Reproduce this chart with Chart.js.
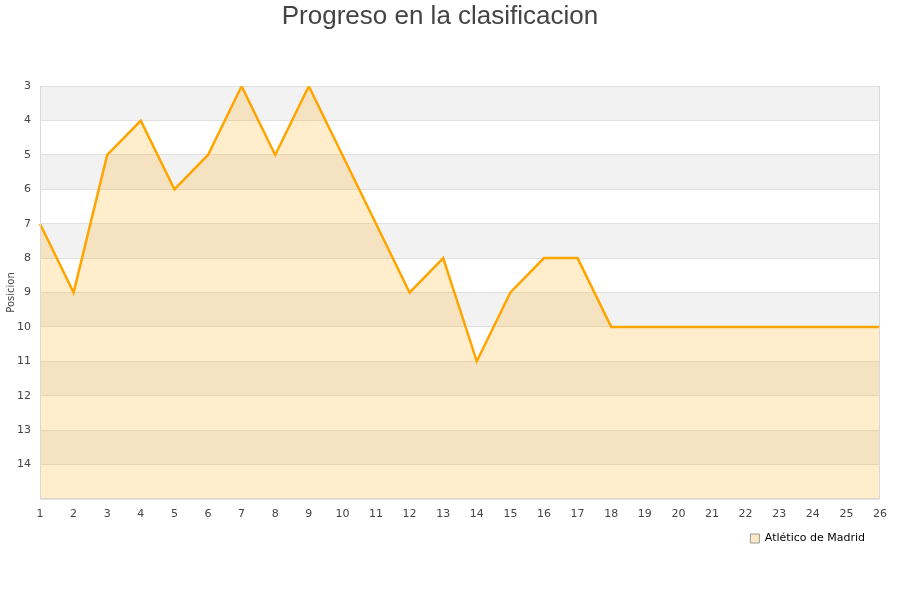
<!DOCTYPE html>
<html>
<head>
<meta charset="utf-8">
<script src="https://cdn.jsdelivr.net/npm/chart.js@4/dist/chart.umd.min.js"></script>
<style>
  html, body { margin: 0; padding: 0; background: #fff; }
  #wrap { width: 900px; height: 600px; }
</style>
</head>
<body>
<div id="wrap"><canvas id="chart" width="900" height="600"></canvas></div>
<script>
// jornadas y posiciones
const jornadas = ['1','2','3','4','5','6','7','8','9','10','11','12','13','14','15','16','17','18','19','20','21','22','23','24','25','26'];
const posiciones = [7, 9, 5, 4, 6, 5, 3, 5, 3, 5, 7, 9, 8, 11, 9, 8, 8, 10, 10, 10, 10, 10, 10, 10, 10, 10];
const equipo = 'Atlético de Madrid';
const posMin = 3;
const posMax = 15;

// franjas alternas detras del grafico
const bandas = {
    id: 'bandas',
    afterLayout(chart) {
        // la leyenda queda un poco separada del borde derecho
        chart.legend.right -= 12;
    },
    beforeDraw(chart) {
        const ctx = chart.ctx;
        const area = chart.chartArea;
        const y = chart.scales.y;
        ctx.save();
        for (let v = posMin; v < posMax; v++) {
            if ((v - posMin) % 2 === 0) {
                const top = y.getPixelForValue(v);
                const bottom = y.getPixelForValue(v + 1);
                ctx.fillStyle = '#f2f2f2';
                ctx.fillRect(area.left, top, area.right - area.left, bottom - top);
            }
        }
        ctx.restore();
    },
    afterDatasetsDraw(chart) {
        const ctx = chart.ctx;
        const area = chart.chartArea;
        ctx.save();
        ctx.strokeStyle = '#d9d9d9';
        ctx.lineWidth = 1;
        ctx.beginPath();
        ctx.moveTo(area.left + 0.5, area.top);
        ctx.lineTo(area.left + 0.5, area.bottom + 0.5);
        ctx.lineTo(area.right - 0.5, area.bottom + 0.5);
        ctx.lineTo(area.right - 0.5, area.top);
        ctx.stroke();
        ctx.restore();
    }
};

const ctx = document.getElementById('chart').getContext('2d');
new Chart(ctx, {
    type: 'line',
    data: {
        labels: jornadas,
        datasets: [{
            label: equipo,
            data: posiciones,
            borderColor: '#ffa500',
            borderWidth: 2.5,
            backgroundColor: 'rgba(255,165,0,0.2)',
            fill: 'start',
            pointRadius: 0,
            tension: 0
        }]
    },
    options: {
        responsive: false,
        animation: false,
        layout: { padding: { left: 0, right: 20, top: 0, bottom: 46 } },
        plugins: {
            title: {
                display: true,
                text: 'Progreso en la clasificacion',
                color: '#444',
                font: { family: 'Liberation Sans', size: 26, weight: 'normal' },
                padding: { top: 1, bottom: 54 }
            },
            legend: {
                position: 'bottom',
                align: 'end',
                labels: {
                    color: '#000',
                    font: { family: 'DejaVu Sans', size: 11 },
                    boxWidth: 9,
                    boxHeight: 9,
                    padding: 3,
                    generateLabels(chart) {
                        return chart.data.datasets.map((ds, i) => ({
                            text: ds.label,
                            fillStyle: 'rgba(255,165,0,0.25)',
                            strokeStyle: '#999',
                            lineWidth: 1,
                            datasetIndex: i
                        }));
                    }
                }
            },
            tooltip: { enabled: false }
        },
        scales: {
            x: {
                offset: false,
                grid: { display: false, drawTicks: false },
                border: { display: false },
                ticks: {
                    color: '#444',
                    font: { family: 'DejaVu Sans', size: 11 },
                    maxRotation: 0,
                    autoSkip: false,
                    padding: 9
                }
            },
            y: {
                reverse: true,
                min: posMin,
                max: posMax,
                afterFit(scale) { scale.width = 40; },
                grid: { color: '#e0e0e0', drawTicks: false },
                border: { display: false },
                ticks: {
                    stepSize: 1,
                    color: '#444',
                    font: { family: 'DejaVu Sans', size: 11 },
                    padding: 9,
                    callback(v) { return v === posMax ? '' : v; }
                },
                title: {
                    display: true,
                    text: 'Posicion',
                    color: '#444',
                    font: { family: 'DejaVu Sans', size: 10 },
                    padding: { top: 5, bottom: 0 }
                }
            }
        }
    },
    plugins: [bandas]
});
</script>
</body>
</html>
